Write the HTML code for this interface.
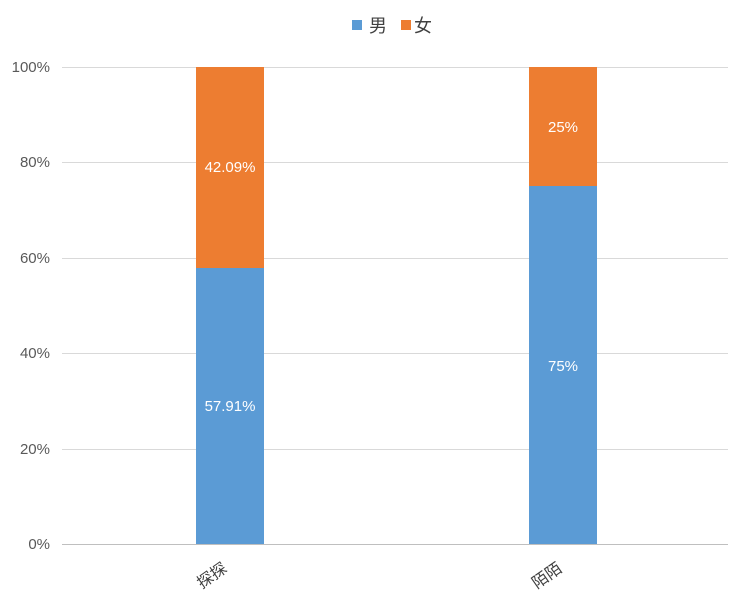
<!DOCTYPE html>
<html><head><meta charset="utf-8"><style>body{margin:0;background:#fff}</style></head><body>
<svg width="750" height="598" xmlns="http://www.w3.org/2000/svg" font-family="Liberation Sans, Noto Sans CJK SC, sans-serif">
<rect width="750" height="598" fill="#fff"/>
<g stroke="#d9d9d9" stroke-width="1">
<line x1="62" y1="67.5" x2="728" y2="67.5"/>
<line x1="62" y1="162.5" x2="728" y2="162.5"/>
<line x1="62" y1="258.5" x2="728" y2="258.5"/>
<line x1="62" y1="353.5" x2="728" y2="353.5"/>
<line x1="62" y1="449.5" x2="728" y2="449.5"/>
</g>
<line x1="62" y1="544.5" x2="728" y2="544.5" stroke="#bfbfbf"/>
<g font-size="15" fill="#595959" text-anchor="end">
<text x="50" y="72">100%</text><text x="50" y="167">80%</text><text x="50" y="263">60%</text>
<text x="50" y="358">40%</text><text x="50" y="454">20%</text><text x="50" y="549">0%</text>
</g>
<rect x="196" y="268" width="68" height="276" fill="#5b9bd5"/>
<rect x="196" y="67" width="68" height="201" fill="#ed7d31"/>
<rect x="529" y="186" width="68" height="358" fill="#5b9bd5"/>
<rect x="529" y="67" width="68" height="119" fill="#ed7d31"/>
<g font-size="15" fill="#fff" text-anchor="middle">
<text x="230" y="172">42.09%</text><text x="230" y="411">57.91%</text>
<text x="563" y="132">25%</text><text x="563" y="371">75%</text>
</g>
<g font-size="16" fill="#404040" text-anchor="middle">
<text transform="translate(215,580) rotate(-35)">探探</text>
<text transform="translate(550,580) rotate(-35)">陌陌</text>
</g>
<rect x="352" y="20" width="10" height="10" fill="#5b9bd5"/>
<text x="369" y="32" font-size="18" fill="#404040">男</text>
<rect x="401" y="20" width="10" height="10" fill="#ed7d31"/>
<text x="414" y="32" font-size="18" fill="#404040">女</text>
</svg>
</body></html>
